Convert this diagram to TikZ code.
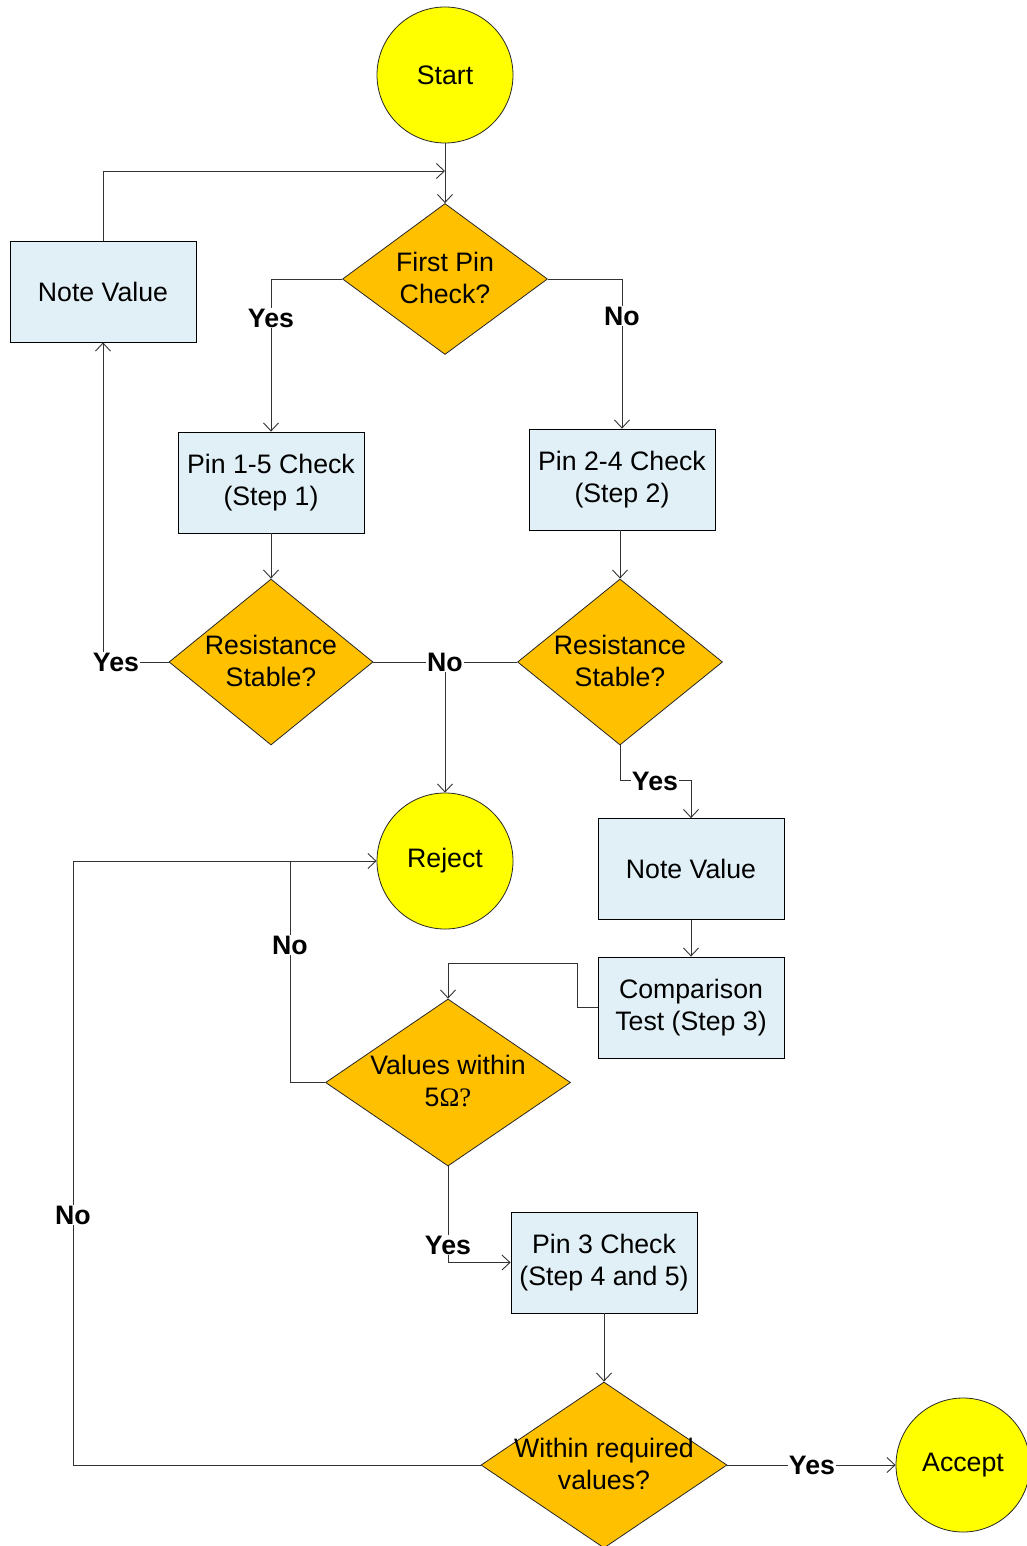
\documentclass[tikz,border=0pt]{standalone}
\usepackage{fontspec}
\setmainfont{Liberation Sans}
\newfontfamily\serifface{Liberation Serif}
\usetikzlibrary{shapes.geometric,arrows.meta}
\definecolor{boxblue}{RGB}{225,240,246}
\definecolor{diaorange}{RGB}{255,192,0}
\definecolor{termyellow}{RGB}{255,255,0}
\newcommand{\nodefont}{\fontsize{26.7}{32}\selectfont}
\tikzset{
  box/.style={draw=black, fill=boxblue, minimum width=186pt, minimum height=101pt, inner sep=0pt, align=center, font=\nodefont, line width=0.8pt},
  dia/.style={diamond, draw=black!85, fill=diaorange, inner sep=0pt, line width=0.8pt},
  term/.style={circle, draw=black!85, fill=termyellow, minimum size=136pt, inner sep=0pt, font=\nodefont, line width=0.8pt},
  txt/.style={align=center, font=\nodefont, inner sep=0pt},
  lbl/.style={fill=white, inner sep=1pt, font=\nodefont\bfseries},
  conn/.style={draw=black!80, line width=0.9pt},
  arr/.style={conn, -{Straight Barb[length=8pt,width=15pt]}}
}
\begin{document}
\begin{tikzpicture}[x=1pt,y=-1pt]
\useasboundingbox (0,0) rectangle (1026,1546);
% nodes
\node[term] (start) at (445,75) {Start};
\node[dia, minimum width=205pt, minimum height=151pt] (fp) at (445,279) {};
\node[txt] (fpt) at (445,278) {First Pin\\Check?};
\node[box] (nv1) at (103,291.5) {Note Value};
\node[box] (p15) at (271,482.5) {Pin 1-5 Check\\(Step 1)};
\node[box] (p24) at (622,479.5) {Pin 2-4 Check\\(Step 2)};
\node[dia, minimum width=204pt, minimum height=166pt] (rl) at (271,662) {};
\node[txt] (rlt) at (271,661) {Resistance\\Stable?};
\node[dia, minimum width=205pt, minimum height=166pt] (rr) at (620,662) {};
\node[txt] (rrt) at (620,661) {Resistance\\Stable?};
\node[term] (reject) at (445,861) {Reject};
\node[box] (nv2) at (691,869) {Note Value};
\node[box] (cmp) at (691,1007.5) {Comparison\\Test (Step 3)};
\node[dia, minimum width=245pt, minimum height=167pt] (vw) at (448,1082.5) {};
\node[txt] (vwt) at (448,1081) {Values within\\5{\serifface Ω?}};
\node[box] (p3) at (604,1262.5) {Pin 3 Check\\(Step 4 and 5)};
\node[dia, minimum width=246pt, minimum height=166pt] (wr) at (604,1465) {};
\node[txt] (wrt) at (604,1464) {Within required\\values?};
\node[term, minimum size=134pt] (acc) at (963,1465) {Accept};
% helper coordinates
\coordinate (top) at (445,171);
\coordinate (jn) at (445,662);
\coordinate (c1) at (448,963);
\coordinate (c2) at (73,861);
\coordinate (c3) at (290,861);
% connectors
\draw[arr] (start) -- (fp);
\draw[arr] (nv1.north) |- (top);
\draw[arr] (fp.west) -| (p15.north);
\draw[arr] (fp.east) -| (p24.north);
\draw[arr] (p15.south) -- (rl.north);
\draw[arr] (p24.south -| rr.north) -- (rr.north);
\draw[arr] (rl.west) -| (nv1.south);
\draw[arr] (rl.east) -| (reject.north);
\draw[conn] (rr.west) -- (jn);
\draw[arr] (rr.south) -- ++(0,35) -| (nv2.north);
\draw[arr] (nv2.south) -- (cmp.north);
\draw[arr] (cmp.west) -- ++(-20,0) |- (c1) -- (vw.north);
\draw[arr] (vw.west) -| (c3) -- (reject.west);
\draw[arr] (vw.south) |- (p3.west);
\draw[arr] (p3.south) -- (wr.north);
\draw[conn] (wr.west) -| (c2) -- (c3);
\draw[arr] (wr.east) -- (acc.west);
% labels
\node[lbl] (l1) at (271,318) {Yes};
\node[lbl] (l2) at (622,316) {No};
\node[lbl] (l3) at (116,662) {Yes};
\node[lbl] (l4) at (445,662) {No};
\node[lbl] (l5) at (655,781) {Yes};
\node[lbl] (l6) at (290,945) {No};
\node[lbl] (l7) at (448,1245) {Yes};
\node[lbl] (l8) at (73,1215) {No};
\node[lbl] (l9) at (812,1465) {Yes};
\end{tikzpicture}
\end{document}
